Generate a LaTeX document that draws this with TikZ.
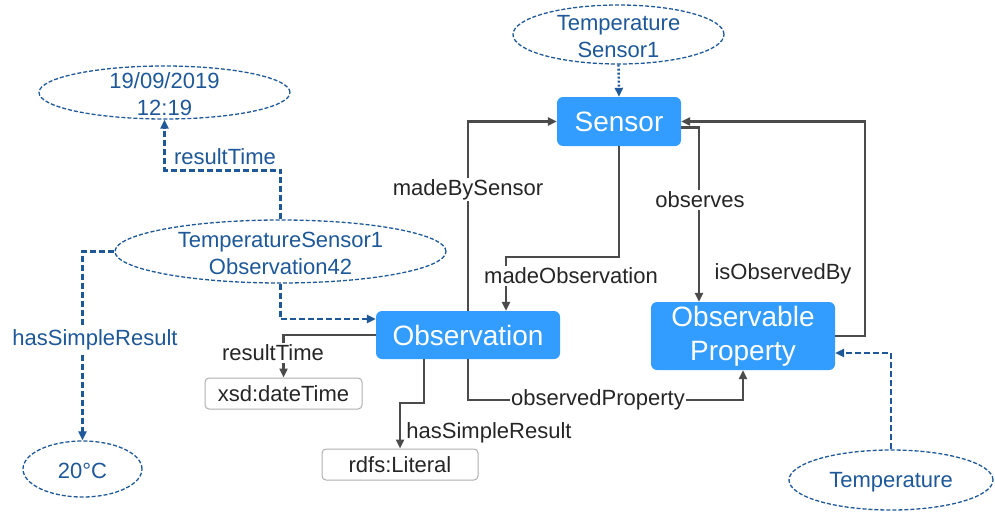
\documentclass[tikz,border=0pt]{standalone}
\usepackage{fontspec}
\setmainfont{Liberation Sans}
\usetikzlibrary{shapes.geometric,arrows.meta}
\definecolor{boxblue}{RGB}{51,156,255}
\definecolor{dblue}{RGB}{30,88,152}
\definecolor{cgray}{RGB}{75,75,75}
\definecolor{bgray}{RGB}{175,175,175}
\tikzset{
  clsbox/.style={fill=boxblue, text=white, rounded corners=6pt, inner sep=0pt, align=center,
    font=\fontsize{28}{34}\selectfont},
  litbox/.style={draw=bgray, line width=1pt, fill=white, text=black!85, rounded corners=4pt,
    inner sep=0pt, font=\fontsize{22}{26}\selectfont},
  inst/.style={ellipse, draw=dblue, line width=1.3pt, dash pattern=on 4pt off 2pt, inner sep=0pt},
  insttext/.style={text=dblue, align=center, yshift=-2pt, font=\fontsize{22}{27}\selectfont},
  conn/.style={draw=cgray, line width=2.5pt, -{Triangle[length=9pt,width=8pt]}},
  bconn/.style={draw=dblue, line width=2.4pt, dash pattern=on 6pt off 3pt, -{Triangle[length=9pt,width=8pt]}},
  dconn/.style={draw=dblue, line width=2.4pt, dash pattern=on 2pt off 2pt, -{Triangle[length=9pt,width=8pt]}},
  lbl/.style={fill=white, text=black!85, inner sep=1.5pt, font=\fontsize{22}{26}\selectfont},
  blbl/.style={fill=white, text=dblue, inner sep=1.5pt, font=\fontsize{22}{26}\selectfont},
}
\begin{document}
\begin{tikzpicture}[x=1pt,y=-1pt]
\useasboundingbox (0,0) rectangle (995,511);
% class boxes
\node[clsbox, minimum width=124pt, minimum height=49pt] (sensor) at (619,121.5) {Sensor};
\node[clsbox, minimum width=184pt, minimum height=48pt] (obs) at (468,335) {Observation};
\node[clsbox, minimum width=184pt, minimum height=68pt] (op) at (743,336) {Observable\\Property};
\node[litbox, minimum width=157pt, minimum height=31pt] (xsd) at (283.5,393.5) {xsd:dateTime};
\node[litbox, minimum width=156pt, minimum height=31pt] (lit) at (400,464.5) {rdfs:Literal};
% instances
\node[inst, minimum width=211pt, minimum height=59pt,
  label={[insttext]center:Temperature\\Sensor1}] (ts1) at (618.5,34.5) {};
\node[inst, minimum width=251pt, minimum height=53pt,
  label={[insttext]center:19/09/2019\\12:19}] (time) at (164.5,92.5) {};
\node[inst, minimum width=331pt, minimum height=63pt,
  label={[insttext]center:TemperatureSensor1\\Observation42}] (tso) at (280.5,251.5) {};
\node[inst, minimum width=119pt, minimum height=56pt,
  label={[insttext]center:20°C}] (c20) at (82.5,469) {};
\node[inst, minimum width=204pt, minimum height=60pt,
  label={[insttext]center:Temperature}] (temp) at (891,480) {};
% ontology connectors
\draw[conn] (obs.north) |- (sensor.west) node[lbl, pos=0.32] {madeBySensor};
\draw[conn] (sensor.south) -- ++(0,111) -| ([xshift=38pt]obs.north);
\node[lbl] (lmo) at (571,276) {madeObservation};
\draw[conn] ([yshift=-6pt]sensor.east) -| ([xshift=-44pt]op.north);
\node[lbl] (lobs) at (700,200) {observes};
\draw[conn] (op.east) -- ++(30,0) |- (sensor.east);
\node[text=black!85, font=\fontsize{22}{26}\selectfont] (lib) at (783,274) {isObservedBy};
\draw[conn] (obs.south) -- ++(0,41) -| (op.south);
\node[lbl] (lop) at (598,400) {observedProperty};
\draw[conn] (obs.west) -| (xsd.north);
\node[lbl] (lrt) at (273,353) {resultTime};
\draw[conn] ([xshift=-44pt]obs.south) -- ++(0,44) -| (lit.north);
\node[text=black!85, font=\fontsize{22}{26}\selectfont, inner sep=1pt] (lhs) at (489,433) {hasSimpleResult};
% instance connectors
\draw[dconn] (ts1.south) -- (sensor.north);
\draw[bconn] (tso.north) -- ++(0,-49) -| (time.south);
\node[text=dblue, font=\fontsize{22}{26}\selectfont, inner sep=0pt] (lbrt) at (225,157) {resultTime};
\draw[bconn] (tso.south) |- ([yshift=16pt]obs.west);
\draw[bconn] (tso.west) -| (c20.north);
\node[blbl] (lbhs) at (95,340) {hasSimpleResult};
\draw[bconn] (temp.north) |- ([yshift=-17pt]op.east);
\end{tikzpicture}
\end{document}
